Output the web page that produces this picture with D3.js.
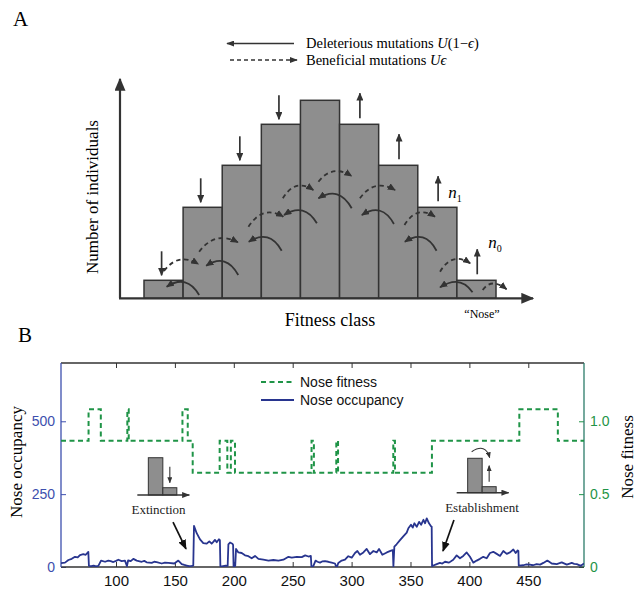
<!DOCTYPE html>
<html><head><meta charset="utf-8">
<script src="https://cdn.jsdelivr.net/npm/d3@7"></script>
<style>body{margin:0;background:#fff} svg{display:block}</style>
</head><body>
<svg id="c" width="642" height="590"></svg>
<script>
// ================= DATA =================
// Panel A: schematic fitness-class distribution
const fitnessClasses = [0, 1, 2, 3, 4, 5, 6, 7, 8];
const classCounts = [18, 91, 133, 174, 198, 174, 133, 91, 18];
const downArrowClasses = [0, 1, 2, 3];
const upArrowClasses = [5, 6, 7, 8];
// curved arrows: [fromClass, fromCount, toClass, toCount]
const deleteriousArrows = [
  [1.41, 3.3, 0.58, 11.6], [2.41, 23.3, 1.59, 32.6], [3.52, 47.6, 2.68, 56.6],
  [4.42, 75, 3.58, 83.3], [5.31, 90, 4.46, 100], [6.39, 74.3, 5.57, 83.3],
  [7.48, 47.6, 6.67, 56.6], [8.40, 6, 7.57, 11]
];
const beneficialArrows = [
  [0.51, 27.3, 1.39, 34.3], [1.41, 46.6, 2.40, 56], [2.67, 71.6, 3.56, 81.6],
  [3.55, 100, 4.33, 108.3], [4.46, 116.6, 5.31, 122.3], [5.52, 100, 6.42, 108.3],
  [6.66, 73.3, 7.44, 81.6], [7.57, 26.6, 8.34, 35], [8.66, 8.3, 9.27, 9]
];

// Panel B: nose fitness (step function)
const fitLow = 0.646, fitMid = 0.866, fitHigh = 1.082;
const fitTime = [53.3, 76.7, 87.1, 109.6, 110.8, 156.4, 160.9, 165.1, 188, 194.5, 197.5, 201,
  266, 268, 287, 288.5, 335.4, 336.8, 368.2, 442.4, 475.1, 497.3];
const fitValue = [fitMid, fitHigh, fitMid, fitHigh, fitMid, fitHigh, fitMid, fitLow, fitMid, fitLow, fitMid, fitLow,
  fitMid, fitLow, fitMid, fitLow, fitMid, fitLow, fitMid, fitHigh, fitMid, fitMid];

// Panel B: nose occupancy
const occTime = [53.3, 56.7, 59.6, 62.4, 65.2, 67.5, 69.4, 72.2, 74.3, 76.5, 77.0, 79, 81, 83, 85, 87.3,
  90.7, 93.5, 95.5, 97.7, 100, 102, 104.8, 107.6, 109.3, 110.3, 112.5, 114.7, 117.6, 121.8, 124, 126,
  130.3, 132.5, 134.5, 138.8, 141.5, 144.4, 149.5, 152.9, 155.8, 158, 160, 162, 164.2, 165.6,
  166.2, 168.5, 171.3, 174.1, 177, 179.2, 181.2, 182.6, 184, 185.5, 187.4, 188.2, 188.6, 190, 193, 194.8,
  195.4, 196.8, 198.8, 199.4, 199.8, 201.2, 201.9, 203.9, 206.7, 209.5, 212.4, 215.2, 218, 220.9,
  225.1, 229.4, 233.6, 237.9, 242.1, 246.4, 249.2, 253.5, 257.7, 260.6, 263.4, 265.4, 265.9, 267.5,
  269.4, 271, 273.2, 275, 277.4, 280.2, 283.1, 285.9, 286.8, 287.8, 288.7, 291.6, 294.4, 297.2,
  300.1, 302.9, 304.9, 307.1, 310, 312.8, 315.6, 318.5, 321.3, 323.3, 326.1, 329.9, 333.5, 335,
  335.5, 336.3, 338.2, 341.1, 343.9, 346.8, 348.2, 350.4, 351.9, 353.3, 355.3, 357.3, 359, 361,
  362.4, 363.8, 365.7, 367.4, 368.0, 368.3, 369.4, 372.3, 375, 377, 379.3, 382.7, 386.3, 389.2,
  392, 394.8, 397.7, 400.5, 403.3, 406.2, 409, 411.8, 414.7, 417.5, 420.3, 423.2, 426, 428.8,
  431.7, 434.5, 437.3, 439.3, 441, 441.6, 441.9, 445.8, 448.5, 451.4, 454, 457.1, 460, 462.8,
  466.2, 469.9, 474.2, 476.5, 478.4, 482.7, 486.9, 489, 491.2, 494.6, 497.3];
const occValue = [13, 15, 24, 28, 35, 33, 41, 44, 42, 52, 4, 3, 5, 2, 4, 22,
  18, 22, 20, 17, 21, 25, 20, 22, 3, 23, 20, 28, 22, 18, 21, 16,
  14, 18, 17, 12, 15, 14, 12, 22, 10, 7, 5, 3, 4, 5,
  141, 116, 95, 82, 80, 88, 80, 86, 93, 85, 95, 92, 3, 2, 5, 4,
  78, 84, 80, 76, 2, 4, 62, 50, 48, 40, 37, 30, 38, 28,
  25, 22, 24, 22, 25, 35, 32, 35, 34, 40, 36, 38, 2, 3,
  22, 18, 15, 19, 20, 18, 15, 12, 2, 3, 14, 22, 25, 37,
  32, 48, 55, 42, 50, 62, 44, 55, 50, 62, 42, 50, 56, 58,
  2, 70, 78, 92, 105, 118, 133, 145, 135, 150, 138, 155, 145, 162,
  150, 167, 150, 140, 138, 3, 5, 10, 14, 12, 18, 15, 25, 40,
  30, 38, 50, 35, 15, 22, 28, 35, 30, 48, 52, 45, 38, 55,
  45, 50, 60, 48, 57, 55, 5, 6, 9, 8, 6, 10, 8, 14,
  22, 12, 10, 13, 16, 8, 14, 11, 10, 4, 12];

const xTicks = [100, 150, 200, 250, 300, 350, 400, 450];
const occTicks = [0, 250, 500];
const fitTicks = [0, 0.5, 1.0];

// ================= DRAWING =================
const svg = d3.select("#c");
const serif = "'Liberation Serif','Times New Roman',Times,serif";
const sans = "'Liberation Sans',Arial,Helvetica,sans-serif";
const dark = "#333333";
const blue = "#28358f";
const axisBlue = "#3d4fae";
const green = "#1f9447";
const teal = "#2b7c69";

const defs = svg.append("defs");
function marker(id, color, w, h) {
  defs.append("marker").attr("id", id)
    .attr("viewBox", "0 0 10 10").attr("refX", 9).attr("refY", 5)
    .attr("markerUnits", "userSpaceOnUse")
    .attr("markerWidth", w).attr("markerHeight", h)
    .attr("preserveAspectRatio", "none").attr("orient", "auto")
    .append("path").attr("d", "M0,0L10,5L0,10z").attr("fill", color);
}
marker("axHead", dark, 13, 11);
marker("smHead", dark, 8, 7);
marker("cvHead", dark, 8, 7);
marker("ptHead", "#111", 10, 8);
marker("inHead", dark, 8, 6);
marker("tiHead", dark, 6, 5);

// ---------- Panel A ----------
svg.append("text").attr("x", 13).attr("y", 26).attr("font-family", serif).attr("font-size", 21).text("A");

// legend
svg.append("line").attr("x1", 294).attr("y1", 43.5).attr("x2", 227).attr("y2", 43.5)
  .attr("stroke", dark).attr("stroke-width", 1.7).attr("marker-end", "url(#inHead)");
svg.append("line").attr("x1", 230).attr("y1", 60).attr("x2", 297).attr("y2", 60)
  .attr("stroke", dark).attr("stroke-width", 1.7).attr("stroke-dasharray", "4,3")
  .attr("marker-end", "url(#inHead)");
const leg1 = svg.append("text").attr("x", 306).attr("y", 48).attr("font-family", serif).attr("font-size", 14.5);
leg1.append("tspan").text("Deleterious mutations ");
leg1.append("tspan").attr("font-style", "italic").text("U");
leg1.append("tspan").text("(1\u2212");
leg1.append("tspan").attr("font-style", "italic").text("\u03f5");
leg1.append("tspan").text(")");
const leg2 = svg.append("text").attr("x", 306).attr("y", 65).attr("font-family", serif).attr("font-size", 14.5);
leg2.append("tspan").text("Beneficial mutations ");
leg2.append("tspan").attr("font-style", "italic").text("U\u03f5");

const xA = d3.scaleLinear().domain([0, 9]).range([144, 496]);
const yA = d3.scaleLinear().domain([0, 220]).range([298.3, 78.3]);

// bars
svg.append("g").selectAll("rect").data(fitnessClasses).join("rect")
  .attr("x", d => xA(d)).attr("width", d => xA(d + 1) - xA(d))
  .attr("y", d => yA(classCounts[d])).attr("height", d => yA(0) - yA(classCounts[d]))
  .attr("fill", "#8e8e8e").attr("stroke", dark).attr("stroke-width", 1.5);

// axes with arrows
svg.append("line").attr("x1", 120).attr("y1", yA(0)).attr("x2", 120).attr("y2", 79)
  .attr("stroke", dark).attr("stroke-width", 2.2).attr("marker-end", "url(#axHead)");
svg.append("line").attr("x1", 119).attr("y1", yA(0)).attr("x2", 533).attr("y2", yA(0))
  .attr("stroke", dark).attr("stroke-width", 2.2).attr("marker-end", "url(#axHead)");

// straight arrows (selection)
svg.append("g").selectAll("line").data(downArrowClasses).join("line")
  .attr("x1", d => xA(d + 0.45)).attr("x2", d => xA(d + 0.45))
  .attr("y1", d => yA(classCounts[d] + 29)).attr("y2", d => yA(classCounts[d] + 5))
  .attr("stroke", dark).attr("stroke-width", 1.7).attr("marker-end", "url(#smHead)");
svg.append("g").selectAll("line").data(upArrowClasses).join("line")
  .attr("x1", d => xA(d + 0.52)).attr("x2", d => xA(d + 0.52))
  .attr("y1", d => yA(classCounts[d] + 6)).attr("y2", d => yA(classCounts[d] + 31))
  .attr("stroke", dark).attr("stroke-width", 1.7).attr("marker-end", "url(#smHead)");

// curved mutation arrows
function curvePath(a, lift, shift) {
  const x0 = xA(a[0]), y0 = yA(a[1]), x1 = xA(a[2]), y1 = yA(a[3]);
  const cx = (x0 + x1) / 2 + shift, cy = Math.min(y0, y1) - lift;
  return `M${x0},${y0}Q${cx},${cy} ${x1},${y1}`;
}
svg.append("g").selectAll("path").data(deleteriousArrows).join("path")
  .attr("d", d => curvePath(d, 13, 4)).attr("fill", "none")
  .attr("stroke", dark).attr("stroke-width", 1.8).attr("marker-end", "url(#cvHead)");
svg.append("g").selectAll("path").data(beneficialArrows).join("path")
  .attr("d", d => curvePath(d, 12, -3)).attr("fill", "none")
  .attr("stroke", dark).attr("stroke-width", 1.8).attr("stroke-dasharray", "4.5,3.5")
  .attr("marker-end", "url(#cvHead)");

// n1, n0 labels
function nLabel(x, y, sub) {
  const t = svg.append("text").attr("x", x).attr("y", y).attr("font-family", serif).attr("font-size", 17);
  t.append("tspan").attr("font-style", "italic").text("n");
  t.append("tspan").attr("font-size", 10).attr("dy", 4).text(sub);
}
nLabel(xA(7.78), yA(classCounts[7] + 9), "1");
nLabel(xA(8.8), yA(classCounts[8] + 32), "0");

svg.append("text").attr("transform", "translate(92,197) rotate(-90)").attr("text-anchor", "middle")
  .attr("dy", "0.35em").attr("font-family", serif).attr("font-size", 17).text("Number of individuals");
svg.append("text").attr("x", 330).attr("y", 326).attr("text-anchor", "middle")
  .attr("font-family", serif).attr("font-size", 18).text("Fitness class");
svg.append("text").attr("x", 482).attr("y", 318).attr("text-anchor", "middle")
  .attr("font-family", serif).attr("font-size", 12).text("\u201cNose\u201d");

// ---------- Panel B ----------
svg.append("text").attr("x", 18).attr("y", 342).attr("font-family", serif).attr("font-size", 21).text("B");

const xB = d3.scaleLinear().domain([53.3, 497.3]).range([61, 584]);
const yOcc = d3.scaleLinear().domain([0, 700]).range([567, 363]);
const yFit = d3.scaleLinear().domain([0, 1.4]).range([567, 363]);

defs.append("clipPath").attr("id", "plotClip").append("rect")
  .attr("x", 61).attr("y", 363).attr("width", 523).attr("height", 204);

// axes
const gBottom = svg.append("g").attr("transform", "translate(0,567)")
  .call(d3.axisBottom(xB).tickValues(xTicks).tickSizeInner(-5).tickSizeOuter(0).tickPadding(8));
gBottom.select(".domain").remove();
gBottom.selectAll("text").attr("font-family", sans).attr("font-size", 15).attr("fill", "#111");
gBottom.selectAll("line").attr("stroke", dark);

const gTop = svg.append("g").attr("transform", "translate(0,363)")
  .call(d3.axisTop(xB).tickValues(xTicks).tickSizeInner(-5).tickSizeOuter(0).tickFormat(""));
gTop.select(".domain").remove();
gTop.selectAll("line").attr("stroke", dark);

const gLeft = svg.append("g").attr("transform", "translate(61,0)")
  .call(d3.axisLeft(yOcc).tickValues(occTicks).tickSizeInner(-5).tickSizeOuter(0).tickPadding(6));
gLeft.select(".domain").remove();
gLeft.selectAll("text").attr("font-family", sans).attr("font-size", 14).attr("fill", axisBlue);
gLeft.selectAll("line").attr("stroke", axisBlue);

const gRight = svg.append("g").attr("transform", "translate(584,0)")
  .call(d3.axisRight(yFit).tickValues(fitTicks).tickSizeInner(-5).tickSizeOuter(0).tickPadding(6)
    .tickFormat(d => d === 0 ? "0" : d3.format(".1f")(d)));
gRight.select(".domain").remove();
gRight.selectAll("text").attr("font-family", sans).attr("font-size", 14).attr("fill", green);
gRight.selectAll("line").attr("stroke", green);

// frame
svg.append("line").attr("x1", 61).attr("x2", 584).attr("y1", 363).attr("y2", 363).attr("stroke", dark).attr("stroke-width", 1.3);
svg.append("line").attr("x1", 61).attr("x2", 584).attr("y1", 567).attr("y2", 567).attr("stroke", dark).attr("stroke-width", 1.3);
svg.append("line").attr("x1", 61).attr("x2", 61).attr("y1", 363).attr("y2", 567).attr("stroke", axisBlue).attr("stroke-width", 1.3);
svg.append("line").attr("x1", 584).attr("x2", 584).attr("y1", 363).attr("y2", 567).attr("stroke", teal).attr("stroke-width", 1.3);

// axis titles
svg.append("text").attr("transform", "translate(16,462) rotate(-90)").attr("text-anchor", "middle")
  .attr("dy", "0.35em").attr("font-family", serif).attr("font-size", 17).text("Nose occupancy");
svg.append("text").attr("transform", "translate(627,457) rotate(-90)").attr("text-anchor", "middle")
  .attr("dy", "0.35em").attr("font-family", serif).attr("font-size", 17).text("Nose fitness");

// series
const plot = svg.append("g").attr("clip-path", "url(#plotClip)");
const fitLine = d3.line().x(i => xB(fitTime[i])).y(i => yFit(fitValue[i])).curve(d3.curveStepAfter);
plot.append("path").attr("d", fitLine(d3.range(fitTime.length)))
  .attr("fill", "none").attr("stroke", green).attr("stroke-width", 2).attr("stroke-dasharray", "5,3.5");
const occLine = d3.line().x(i => xB(occTime[i])).y(i => yOcc(occValue[i]));
plot.append("path").attr("d", occLine(d3.range(occTime.length)))
  .attr("fill", "none").attr("stroke", blue).attr("stroke-width", 1.8).attr("stroke-linejoin", "round");

// legend
svg.append("line").attr("x1", 261).attr("x2", 293).attr("y1", 382).attr("y2", 382)
  .attr("stroke", green).attr("stroke-width", 2).attr("stroke-dasharray", "5,3.5");
svg.append("text").attr("x", 300).attr("y", 382).attr("dy", "0.35em").attr("font-family", sans)
  .attr("font-size", 14).attr("fill", "#111").text("Nose fitness");
svg.append("line").attr("x1", 261).attr("x2", 294).attr("y1", 400).attr("y2", 400)
  .attr("stroke", blue).attr("stroke-width", 2);
svg.append("text").attr("x", 300).attr("y", 400).attr("dy", "0.35em").attr("font-family", sans)
  .attr("font-size", 14).attr("fill", "#111").text("Nose occupancy");

// insets
function inset(t, v, tall, small, label, labelDx, establish) {
  const g = svg.append("g").attr("transform", `translate(${xB(t)},${yOcc(v)})`);
  g.append("rect").attr("x", 11).attr("y", -tall).attr("width", 14.5).attr("height", tall)
    .attr("fill", "#8e8e8e").attr("stroke", dark).attr("stroke-width", 1);
  g.append("rect").attr("x", 25.5).attr("y", -small).attr("width", 14).attr("height", small)
    .attr("fill", "#8e8e8e").attr("stroke", dark).attr("stroke-width", 1);
  g.append("line").attr("x1", 0).attr("x2", 52).attr("y1", 0).attr("y2", 0)
    .attr("stroke", dark).attr("stroke-width", 1.6).attr("marker-end", "url(#inHead)");
  if (establish) {
    g.append("line").attr("x1", 32.5).attr("x2", 32.5).attr("y1", -small - 5).attr("y2", -small - 21)
      .attr("stroke", dark).attr("stroke-width", 1.1).attr("marker-end", "url(#tiHead)");
    g.append("path").attr("d", "M15,-41Q29,-50 33,-35").attr("fill", "none")
      .attr("stroke", dark).attr("stroke-width", 1.1).attr("marker-end", "url(#tiHead)");
  } else {
    g.append("line").attr("x1", 32.5).attr("x2", 32.5).attr("y1", -small - 21).attr("y2", -small - 5)
      .attr("stroke", dark).attr("stroke-width", 1.1).attr("marker-end", "url(#tiHead)");
  }
  g.append("text").attr("x", labelDx).attr("y", 19).attr("text-anchor", "middle")
    .attr("font-family", serif).attr("font-size", 13).attr("fill", "#222").text(label);
}
inset(118.1, 247, 37.3, 7.3, "Extinction", 21.2, false);
inset(389.2, 255, 34.4, 6, "Establishment", 25.3, true);

// pointer arrows
svg.append("line").attr("x1", xB(148.4)).attr("y1", yOcc(154)).attr("x2", xB(159.4)).attr("y2", yOcc(62))
  .attr("stroke", "#111").attr("stroke-width", 1.7).attr("marker-end", "url(#ptHead)");
svg.append("line").attr("x1", xB(386.9)).attr("y1", yOcc(161)).attr("x2", xB(377.6)).attr("y2", yOcc(55))
  .attr("stroke", "#111").attr("stroke-width", 1.7).attr("marker-end", "url(#ptHead)");
</script>
</body></html>
